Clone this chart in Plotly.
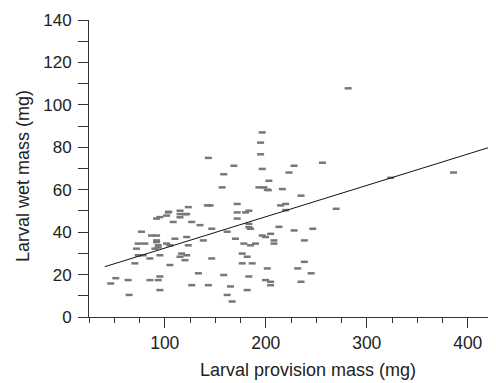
import plotly.graph_objects as go

# Larval provision mass (mg)
provision_mass = [
    281.6, 196.5, 194.9, 194.9, 196.5, 256.1, 143.2, 168.4, 228.0, 223.0,
    385.9, 158.4, 203.1, 156.8, 193.2, 198.2, 201.5, 202.5, 216.4, 234.9,
    142.2, 144.9, 171.7, 219.7, 214.7, 269.7, 219.7, 123.3, 115.1, 183.3,
    103.5, 104.0, 171.7, 180.0, 115.1, 120.0, 121.7, 101.8, 95.2, 115.1,
    171.7, 91.9, 108.4, 126.7, 183.3, 134.9, 213.1, 183.3, 184.9, 146.5,
    246.5, 228.0, 77.0, 161.8, 204.8, 196.5, 86.9, 91.9, 121.7, 199.8,
    110.1, 170.0, 238.2, 138.2, 208.1, 91.9, 91.9, 73.7, 80.3, 101.8,
    178.3, 189.9, 208.1, 105.1, 123.3, 184.9, 93.5, 90.2, 72.0, 116.7,
    176.7, 73.7, 78.6, 95.2, 121.7, 115.1, 181.6, 85.3, 146.5, 120.0,
    238.2, 70.4, 176.7, 186.6, 105.1, 231.6, 201.5, 133.3, 244.9, 95.2,
    158.4, 183.3, 51.5, 63.7, 85.3, 93.5, 199.8, 234.9, 204.8, 46.5,
    126.7, 143.2, 204.8, 165.1, 95.2, 181.6, 64.7, 161.8, 166.7, 323.7,
    93.5,
]
# Larval wet mass (mg)
wet_mass = [
    107.8, 87.0, 82.2, 76.7, 69.8, 72.7, 75.0, 71.3, 71.3, 68.1,
    68.1, 67.3, 64.2, 61.1, 61.1, 61.1, 60.0, 59.8, 60.3, 57.2,
    52.6, 52.6, 53.3, 53.3, 52.6, 51.0, 50.4, 51.8, 50.1, 50.1,
    49.3, 49.6, 49.3, 49.3, 48.5, 48.5, 48.5, 47.8, 47.1, 47.0,
    46.4, 46.4, 44.8, 44.8, 43.9, 43.3, 42.5, 42.3, 41.6, 41.6,
    41.6, 40.8, 40.2, 40.2, 39.2, 38.4, 38.4, 38.4, 37.7, 37.7,
    36.9, 36.9, 36.1, 36.1, 36.1, 36.1, 35.3, 34.6, 34.6, 34.6,
    34.6, 34.6, 34.6, 33.8, 33.8, 33.8, 33.8, 32.2, 32.2, 29.9,
    29.9, 29.1, 29.1, 29.1, 29.1, 28.4, 28.4, 27.6, 27.6, 26.8,
    26.0, 25.3, 25.3, 25.3, 24.5, 22.9, 22.9, 20.6, 20.6, 19.1,
    19.8, 19.1, 18.3, 17.4, 17.4, 17.4, 17.4, 16.6, 16.6, 15.8,
    15.0, 15.0, 15.0, 14.4, 12.7, 12.7, 10.4, 10.4, 7.3, 65.6,
    32.8,
]
# Fitted regression line (as drawn)
fit_x = [40.6, 423.0]
fit_y = [23.7, 80.2]

x_major_ticks = [100, 200, 300, 400]
x_tick_labels = ["100", "200", "300", "400"]
y_major_ticks = [0, 20, 40, 60, 80, 100, 120, 140]
y_tick_labels = ["0", "20", "40", "60", "80", "100", "120", "140"]

FONT = "Liberation Sans, Arial, Helvetica, sans-serif"
TXT = "#222222"
AX = "#333333"

fig = go.Figure()
fig.add_trace(go.Scatter(
    x=provision_mass, y=wet_mass, mode="markers",
    marker=dict(symbol="line-ew", size=5, color="#777777",
                line=dict(color="#777777", width=2.5)),
    showlegend=False, hoverinfo="skip",
))
fig.add_trace(go.Scatter(
    x=fit_x, y=fit_y, mode="lines",
    line=dict(color="#111111", width=1),
    showlegend=False, hoverinfo="skip",
))

fig.update_layout(
    width=488, height=375,
    margin=dict(l=81, r=3, t=8, b=66),
    plot_bgcolor="white", paper_bgcolor="white",
    font=dict(family=FONT, size=17, color=TXT),
    xaxis=dict(
        range=[25, 425], showgrid=False, zeroline=False,
        showline=True, linecolor=AX, linewidth=1,
        tickmode="array", tickvals=x_major_ticks, ticktext=x_tick_labels,
        ticks="outside", ticklen=10, tickwidth=1, tickcolor=AX,
        tickfont=dict(family=FONT, size=17.5, color=TXT),
        ticklabelstandoff=0, ticklabeloverflow="allow",
        minor=dict(tick0=0, dtick=25, ticks="outside", ticklen=5,
                   tickwidth=1, tickcolor=AX, showgrid=False),
    ),
    yaxis=dict(
        range=[0, 140], showgrid=False, zeroline=False,
        showline=True, linecolor=AX, linewidth=1,
        tickmode="array", tickvals=y_major_ticks, ticktext=y_tick_labels,
        ticks="outside", ticklen=10, tickwidth=1, tickcolor=AX,
        tickfont=dict(family=FONT, size=17, color=TXT),
        ticklabelstandoff=3, ticklabeloverflow="allow",
        minor=dict(tick0=0, dtick=10, ticks="outside", ticklen=10,
                   tickwidth=1, tickcolor=AX, showgrid=False),
    ),
    annotations=[
        dict(text="Larval provision mass (mg)", xref="paper", yref="paper",
             x=0.542, y=-0.177, xanchor="center", yanchor="middle",
             showarrow=False, font=dict(family=FONT, size=18, color=TXT)),
        dict(text="Larval wet mass (mg)", xref="paper", yref="paper",
             x=-0.164, y=0.474, xanchor="center", yanchor="middle",
             textangle=-90, showarrow=False,
             font=dict(family=FONT, size=18, color=TXT)),
    ],
)

fig.write_html("out.html")
